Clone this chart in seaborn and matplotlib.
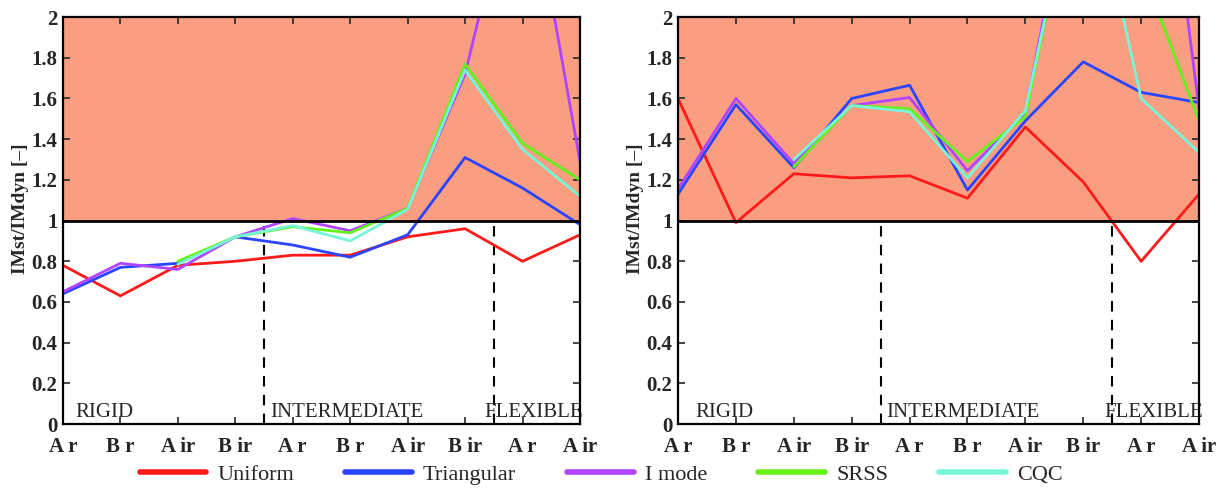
import matplotlib
matplotlib.use("Agg")
import matplotlib.pyplot as plt
import numpy as np
import pandas as pd
import seaborn as sns
from matplotlib.lines import Line2D

# category labels along x (same on both panels)
cats = ["A r", "B r", "A ir", "B ir", "A r", "B r", "A ir", "B ir", "A r", "A ir"]
methods = ["Uniform", "Triangular", "I mode", "SRSS", "CQC"]
colors = ["#FF1A1A", "#2A45FF", "#B044FF", "#66F01A", "#78F5D8"]
yticks = [0, 0.2, 0.4, 0.6, 0.8, 1, 1.2, 1.4, 1.6, 1.8, 2]
ytick_labels = ["0", "0.2", "0.4", "0.6", "0.8", "1", "1.2", "1.4", "1.6", "1.8", "2"]
zones = ["RIGID", "INTERMEDIATE", "FLEXIBLE"]

nan = np.nan
# left panel values (IMst/IMdyn)
left_uniform = [0.78, 0.63, 0.78, 0.80, 0.83, 0.83, 0.92, 0.96, 0.80, 0.93]
left_triang = [0.64, 0.77, 0.79, 0.92, 0.88, 0.82, 0.93, 1.31, 1.16, 0.98]
left_imode = [0.65, 0.79, 0.76, 0.92, 1.01, 0.95, 1.06, 1.72, 2.88, 1.29]
left_srss = [nan, nan, 0.80, 0.92, 0.97, 0.94, 1.06, 1.77, 1.38, 1.20]
left_cqc = [nan, nan, 0.785, 0.92, 0.975, 0.90, 1.055, 1.74, 1.35, 1.12]

# right panel values
right_uniform = [1.60, 0.99, 1.23, 1.21, 1.22, 1.11, 1.46, 1.19, 0.80, 1.13]
right_triang = [1.13, 1.57, 1.26, 1.60, 1.665, 1.15, 1.49, 1.78, 1.63, 1.58]
right_imode = [1.155, 1.60, 1.28, 1.565, 1.605, 1.245, 1.53, 3.0, 3.8, 1.55]
right_srss = [nan, nan, 1.265, 1.565, 1.55, 1.29, 1.51, 2.9, 2.25, 1.49]
right_cqc = [nan, nan, 1.30, 1.565, 1.535, 1.21, 1.54, 2.88, 1.60, 1.335]

left_vals = [left_uniform, left_triang, left_imode, left_srss, left_cqc]
right_vals = [right_uniform, right_triang, right_imode, right_srss, right_cqc]


def to_df(vals):
    rows = []
    for m, v in zip(methods, vals):
        for i, y in enumerate(v):
            rows.append({"pos": i, "ratio": y, "method": m})
    return pd.DataFrame(rows)


sns.set_style("ticks")
plt.rcParams["font.family"] = ["Liberation Serif", "DejaVu Serif"]

fig = plt.figure(figsize=(12.27, 4.88), dpi=100)
ax1 = fig.add_axes([0.0513, 0.131, 0.4214, 0.834])
ax2 = fig.add_axes([0.5526, 0.131, 0.4246, 0.834])

# where the zone names start, in category units
zone_x = {ax1: [0.22, 3.6, 7.33], ax2: [0.3, 3.6, 7.37]}

for ax, vals in [(ax1, left_vals), (ax2, right_vals)]:
    ax.axhspan(1, 2, color="#FA9E82", zorder=0, lw=0)
    df = to_df(vals)
    sns.lineplot(data=df, x="pos", y="ratio", hue="method", hue_order=methods,
                 palette=colors, linewidth=2, legend=False, ax=ax, zorder=3)
    ax.axhline(1, color="black", lw=2, zorder=4)
    ax.vlines([3.5, 7.5], 0, 1, colors="black", linestyles=(0, (5, 4)), lw=1.5, zorder=2)
    for name, xz in zip(zones, zone_x[ax]):
        ax.text(xz, 0.035, name, fontsize=15, ha="left", va="baseline", zorder=5)
    ax.set_xlim(0, len(cats) - 1)
    ax.set_ylim(0, 2)
    ax.set_xticks(range(len(cats)))
    ax.set_xticklabels(cats, fontsize=15, fontweight="bold")
    ax.set_yticks(yticks)
    ax.set_yticklabels(ytick_labels, fontsize=15, fontweight="bold")
    ax.tick_params(direction="in", top=True, right=True, length=5, width=1.2)
    ax.tick_params(axis="x", pad=9)
    ax.tick_params(axis="y", pad=4)
    ax.set_xlabel("")
    ax.set_ylabel("IMst/IMdyn [\u2013]", fontsize=14, fontweight="bold")
    ax.yaxis.set_label_coords(-0.066, 0.53)
    for s in ax.spines.values():
        s.set_linewidth(1.6)
        s.set_color("black")
        s.set_zorder(6)

handles = [Line2D([0], [0], color=c, lw=4) for c in colors]
fig.legend(handles, methods, loc="lower center", ncol=5, frameon=False,
           bbox_to_anchor=(0.49, -0.035), fontsize=16, handlelength=3.0,
           columnspacing=2.3, handletextpad=0.5)

fig.savefig("out.png", dpi=100)
